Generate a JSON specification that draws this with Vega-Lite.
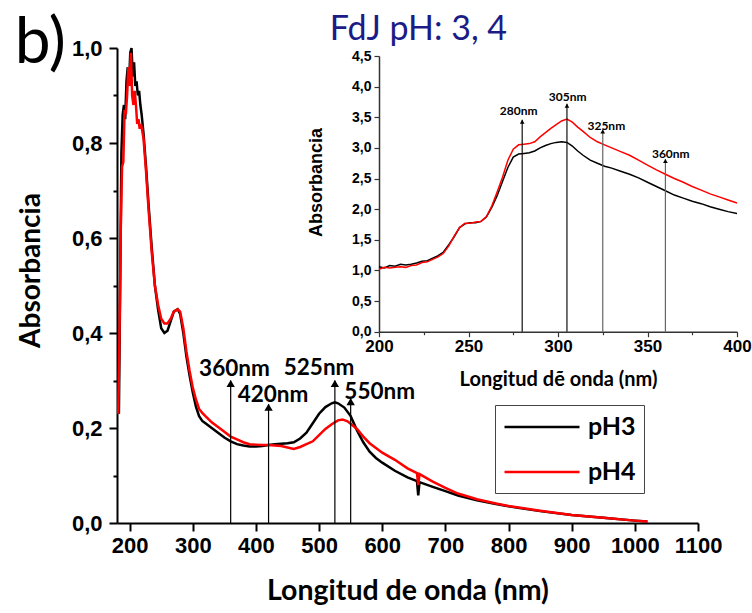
{
  "$schema": "https://vega.github.io/schema/vega-lite/v6.json",
  "width": 581,
  "height": 475,
  "autosize": "none",
  "padding": {"left": 117, "top": 48, "right": 54, "bottom": 90},
  "background": "white",
  "config": {"view": {"stroke": null}, "axis": {"grid": false}},
  "datasets": {
    "main": [
      {"wl":183,"abs":0.23,"serie":"pH3"},{"wl":185,"abs":0.50,"serie":"pH3"},{"wl":187,"abs":0.78,"serie":"pH3"},{"wl":189,"abs":0.86,"serie":"pH3"},{"wl":191,"abs":0.88,"serie":"pH3"},{"wl":193,"abs":0.85,"serie":"pH3"},{"wl":195,"abs":0.93,"serie":"pH3"},{"wl":197,"abs":0.96,"serie":"pH3"},{"wl":199,"abs":0.92,"serie":"pH3"},{"wl":201,"abs":0.99,"serie":"pH3"},{"wl":203,"abs":1.0,"serie":"pH3"},{"wl":205,"abs":0.94,"serie":"pH3"},{"wl":207,"abs":0.97,"serie":"pH3"},{"wl":209,"abs":0.92,"serie":"pH3"},{"wl":211,"abs":0.93,"serie":"pH3"},{"wl":213,"abs":0.90,"serie":"pH3"},{"wl":215,"abs":0.91,"serie":"pH3"},{"wl":217,"abs":0.88,"serie":"pH3"},{"wl":219,"abs":0.86,"serie":"pH3"},{"wl":222,"abs":0.82,"serie":"pH3"},{"wl":226,"abs":0.75,"serie":"pH3"},{"wl":230,"abs":0.67,"serie":"pH3"},{"wl":235,"abs":0.58,"serie":"pH3"},{"wl":240,"abs":0.50,"serie":"pH3"},{"wl":245,"abs":0.45,"serie":"pH3"},{"wl":250,"abs":0.41,"serie":"pH3"},{"wl":255,"abs":0.40,"serie":"pH3"},{"wl":260,"abs":0.405,"serie":"pH3"},{"wl":265,"abs":0.425,"serie":"pH3"},{"wl":270,"abs":0.445,"serie":"pH3"},{"wl":276,"abs":0.45,"serie":"pH3"},{"wl":280,"abs":0.44,"serie":"pH3"},{"wl":285,"abs":0.40,"serie":"pH3"},{"wl":290,"abs":0.35,"serie":"pH3"},{"wl":295,"abs":0.31,"serie":"pH3"},{"wl":300,"abs":0.275,"serie":"pH3"},{"wl":305,"abs":0.245,"serie":"pH3"},{"wl":310,"abs":0.225,"serie":"pH3"},{"wl":315,"abs":0.215,"serie":"pH3"},{"wl":320,"abs":0.21,"serie":"pH3"},{"wl":330,"abs":0.20,"serie":"pH3"},{"wl":340,"abs":0.19,"serie":"pH3"},{"wl":350,"abs":0.18,"serie":"pH3"},{"wl":360,"abs":0.172,"serie":"pH3"},{"wl":370,"abs":0.166,"serie":"pH3"},{"wl":380,"abs":0.163,"serie":"pH3"},{"wl":390,"abs":0.161,"serie":"pH3"},{"wl":400,"abs":0.161,"serie":"pH3"},{"wl":410,"abs":0.162,"serie":"pH3"},{"wl":420,"abs":0.164,"serie":"pH3"},{"wl":430,"abs":0.166,"serie":"pH3"},{"wl":440,"abs":0.167,"serie":"pH3"},{"wl":450,"abs":0.168,"serie":"pH3"},{"wl":460,"abs":0.170,"serie":"pH3"},{"wl":470,"abs":0.178,"serie":"pH3"},{"wl":480,"abs":0.190,"serie":"pH3"},{"wl":490,"abs":0.210,"serie":"pH3"},{"wl":500,"abs":0.230,"serie":"pH3"},{"wl":510,"abs":0.244,"serie":"pH3"},{"wl":520,"abs":0.252,"serie":"pH3"},{"wl":525,"abs":0.254,"serie":"pH3"},{"wl":530,"abs":0.252,"serie":"pH3"},{"wl":540,"abs":0.243,"serie":"pH3"},{"wl":550,"abs":0.225,"serie":"pH3"},{"wl":560,"abs":0.195,"serie":"pH3"},{"wl":570,"abs":0.170,"serie":"pH3"},{"wl":580,"abs":0.150,"serie":"pH3"},{"wl":590,"abs":0.137,"serie":"pH3"},{"wl":600,"abs":0.127,"serie":"pH3"},{"wl":620,"abs":0.110,"serie":"pH3"},{"wl":640,"abs":0.096,"serie":"pH3"},{"wl":655,"abs":0.088,"serie":"pH3"},{"wl":657,"abs":0.058,"serie":"pH3"},{"wl":659,"abs":0.086,"serie":"pH3"},{"wl":680,"abs":0.076,"serie":"pH3"},{"wl":700,"abs":0.067,"serie":"pH3"},{"wl":720,"abs":0.058,"serie":"pH3"},{"wl":750,"abs":0.048,"serie":"pH3"},{"wl":780,"abs":0.040,"serie":"pH3"},{"wl":800,"abs":0.035,"serie":"pH3"},{"wl":850,"abs":0.025,"serie":"pH3"},{"wl":900,"abs":0.017,"serie":"pH3"},{"wl":950,"abs":0.011,"serie":"pH3"},{"wl":1000,"abs":0.005,"serie":"pH3"},{"wl":1020,"abs":0.003,"serie":"pH3"},
      {"wl":182,"abs":0.23,"serie":"pH4"},{"wl":184,"abs":0.40,"serie":"pH4"},{"wl":186,"abs":0.62,"serie":"pH4"},{"wl":188,"abs":0.75,"serie":"pH4"},{"wl":190,"abs":0.76,"serie":"pH4"},{"wl":192,"abs":0.87,"serie":"pH4"},{"wl":194,"abs":0.86,"serie":"pH4"},{"wl":196,"abs":0.90,"serie":"pH4"},{"wl":198,"abs":0.96,"serie":"pH4"},{"wl":200,"abs":0.92,"serie":"pH4"},{"wl":202,"abs":0.99,"serie":"pH4"},{"wl":204,"abs":0.90,"serie":"pH4"},{"wl":206,"abs":0.88,"serie":"pH4"},{"wl":208,"abs":0.91,"serie":"pH4"},{"wl":210,"abs":0.88,"serie":"pH4"},{"wl":212,"abs":0.84,"serie":"pH4"},{"wl":214,"abs":0.85,"serie":"pH4"},{"wl":216,"abs":0.83,"serie":"pH4"},{"wl":218,"abs":0.84,"serie":"pH4"},{"wl":222,"abs":0.81,"serie":"pH4"},{"wl":226,"abs":0.74,"serie":"pH4"},{"wl":230,"abs":0.66,"serie":"pH4"},{"wl":235,"abs":0.57,"serie":"pH4"},{"wl":240,"abs":0.50,"serie":"pH4"},{"wl":245,"abs":0.46,"serie":"pH4"},{"wl":250,"abs":0.43,"serie":"pH4"},{"wl":255,"abs":0.42,"serie":"pH4"},{"wl":260,"abs":0.42,"serie":"pH4"},{"wl":265,"abs":0.43,"serie":"pH4"},{"wl":270,"abs":0.445,"serie":"pH4"},{"wl":276,"abs":0.45,"serie":"pH4"},{"wl":280,"abs":0.445,"serie":"pH4"},{"wl":285,"abs":0.41,"serie":"pH4"},{"wl":290,"abs":0.36,"serie":"pH4"},{"wl":295,"abs":0.32,"serie":"pH4"},{"wl":300,"abs":0.285,"serie":"pH4"},{"wl":305,"abs":0.26,"serie":"pH4"},{"wl":310,"abs":0.24,"serie":"pH4"},{"wl":315,"abs":0.232,"serie":"pH4"},{"wl":320,"abs":0.225,"serie":"pH4"},{"wl":330,"abs":0.212,"serie":"pH4"},{"wl":340,"abs":0.202,"serie":"pH4"},{"wl":350,"abs":0.192,"serie":"pH4"},{"wl":360,"abs":0.182,"serie":"pH4"},{"wl":370,"abs":0.176,"serie":"pH4"},{"wl":380,"abs":0.170,"serie":"pH4"},{"wl":390,"abs":0.166,"serie":"pH4"},{"wl":400,"abs":0.165,"serie":"pH4"},{"wl":410,"abs":0.164,"serie":"pH4"},{"wl":420,"abs":0.164,"serie":"pH4"},{"wl":430,"abs":0.163,"serie":"pH4"},{"wl":440,"abs":0.162,"serie":"pH4"},{"wl":450,"abs":0.159,"serie":"pH4"},{"wl":460,"abs":0.156,"serie":"pH4"},{"wl":470,"abs":0.160,"serie":"pH4"},{"wl":480,"abs":0.166,"serie":"pH4"},{"wl":490,"abs":0.172,"serie":"pH4"},{"wl":500,"abs":0.185,"serie":"pH4"},{"wl":510,"abs":0.198,"serie":"pH4"},{"wl":520,"abs":0.208,"serie":"pH4"},{"wl":530,"abs":0.216,"serie":"pH4"},{"wl":537,"abs":0.218,"serie":"pH4"},{"wl":545,"abs":0.214,"serie":"pH4"},{"wl":550,"abs":0.209,"serie":"pH4"},{"wl":560,"abs":0.198,"serie":"pH4"},{"wl":570,"abs":0.182,"serie":"pH4"},{"wl":580,"abs":0.168,"serie":"pH4"},{"wl":590,"abs":0.158,"serie":"pH4"},{"wl":600,"abs":0.148,"serie":"pH4"},{"wl":620,"abs":0.133,"serie":"pH4"},{"wl":640,"abs":0.115,"serie":"pH4"},{"wl":655,"abs":0.105,"serie":"pH4"},{"wl":657,"abs":0.080,"serie":"pH4"},{"wl":659,"abs":0.103,"serie":"pH4"},{"wl":680,"abs":0.087,"serie":"pH4"},{"wl":700,"abs":0.074,"serie":"pH4"},{"wl":720,"abs":0.062,"serie":"pH4"},{"wl":750,"abs":0.050,"serie":"pH4"},{"wl":780,"abs":0.041,"serie":"pH4"},{"wl":800,"abs":0.036,"serie":"pH4"},{"wl":850,"abs":0.026,"serie":"pH4"},{"wl":900,"abs":0.017,"serie":"pH4"},{"wl":950,"abs":0.011,"serie":"pH4"},{"wl":1000,"abs":0.005,"serie":"pH4"},{"wl":1020,"abs":0.003,"serie":"pH4"}
    ],
    "inset": [
      {"wl":200,"abs":1.06,"serie":"pH3"},{"wl":203,"abs":1.04,"serie":"pH3"},{"wl":206,"abs":1.08,"serie":"pH3"},{"wl":209,"abs":1.07,"serie":"pH3"},{"wl":212,"abs":1.10,"serie":"pH3"},{"wl":215,"abs":1.09,"serie":"pH3"},{"wl":218,"abs":1.10,"serie":"pH3"},{"wl":221,"abs":1.12,"serie":"pH3"},{"wl":224,"abs":1.15,"serie":"pH3"},{"wl":227,"abs":1.16,"serie":"pH3"},{"wl":230,"abs":1.20,"serie":"pH3"},{"wl":233,"abs":1.24,"serie":"pH3"},{"wl":236,"abs":1.30,"serie":"pH3"},{"wl":239,"abs":1.42,"serie":"pH3"},{"wl":242,"abs":1.55,"serie":"pH3"},{"wl":245,"abs":1.70,"serie":"pH3"},{"wl":248,"abs":1.76,"serie":"pH3"},{"wl":251,"abs":1.78,"serie":"pH3"},{"wl":254,"abs":1.78,"serie":"pH3"},{"wl":257,"abs":1.80,"serie":"pH3"},{"wl":260,"abs":1.87,"serie":"pH3"},{"wl":263,"abs":2.03,"serie":"pH3"},{"wl":266,"abs":2.22,"serie":"pH3"},{"wl":269,"abs":2.45,"serie":"pH3"},{"wl":272,"abs":2.68,"serie":"pH3"},{"wl":275,"abs":2.85,"serie":"pH3"},{"wl":278,"abs":2.90,"serie":"pH3"},{"wl":281,"abs":2.91,"serie":"pH3"},{"wl":284,"abs":2.92,"serie":"pH3"},{"wl":287,"abs":2.95,"serie":"pH3"},{"wl":290,"abs":3.00,"serie":"pH3"},{"wl":293,"abs":3.04,"serie":"pH3"},{"wl":296,"abs":3.07,"serie":"pH3"},{"wl":299,"abs":3.09,"serie":"pH3"},{"wl":302,"abs":3.10,"serie":"pH3"},{"wl":305,"abs":3.09,"serie":"pH3"},{"wl":308,"abs":3.03,"serie":"pH3"},{"wl":311,"abs":2.95,"serie":"pH3"},{"wl":314,"abs":2.88,"serie":"pH3"},{"wl":318,"abs":2.80,"serie":"pH3"},{"wl":322,"abs":2.75,"serie":"pH3"},{"wl":326,"abs":2.70,"serie":"pH3"},{"wl":330,"abs":2.67,"serie":"pH3"},{"wl":335,"abs":2.62,"serie":"pH3"},{"wl":340,"abs":2.57,"serie":"pH3"},{"wl":345,"abs":2.51,"serie":"pH3"},{"wl":350,"abs":2.44,"serie":"pH3"},{"wl":355,"abs":2.37,"serie":"pH3"},{"wl":360,"abs":2.30,"serie":"pH3"},{"wl":365,"abs":2.23,"serie":"pH3"},{"wl":370,"abs":2.18,"serie":"pH3"},{"wl":375,"abs":2.13,"serie":"pH3"},{"wl":380,"abs":2.09,"serie":"pH3"},{"wl":385,"abs":2.04,"serie":"pH3"},{"wl":390,"abs":2.00,"serie":"pH3"},{"wl":395,"abs":1.96,"serie":"pH3"},{"wl":400,"abs":1.93,"serie":"pH3"},
      {"wl":200,"abs":1.02,"serie":"pH4"},{"wl":203,"abs":1.05,"serie":"pH4"},{"wl":206,"abs":1.04,"serie":"pH4"},{"wl":209,"abs":1.05,"serie":"pH4"},{"wl":212,"abs":1.06,"serie":"pH4"},{"wl":215,"abs":1.05,"serie":"pH4"},{"wl":218,"abs":1.08,"serie":"pH4"},{"wl":221,"abs":1.09,"serie":"pH4"},{"wl":224,"abs":1.13,"serie":"pH4"},{"wl":227,"abs":1.14,"serie":"pH4"},{"wl":230,"abs":1.18,"serie":"pH4"},{"wl":233,"abs":1.22,"serie":"pH4"},{"wl":236,"abs":1.28,"serie":"pH4"},{"wl":239,"abs":1.40,"serie":"pH4"},{"wl":242,"abs":1.56,"serie":"pH4"},{"wl":245,"abs":1.70,"serie":"pH4"},{"wl":248,"abs":1.77,"serie":"pH4"},{"wl":251,"abs":1.77,"serie":"pH4"},{"wl":254,"abs":1.79,"serie":"pH4"},{"wl":257,"abs":1.80,"serie":"pH4"},{"wl":260,"abs":1.88,"serie":"pH4"},{"wl":263,"abs":2.05,"serie":"pH4"},{"wl":266,"abs":2.28,"serie":"pH4"},{"wl":269,"abs":2.52,"serie":"pH4"},{"wl":272,"abs":2.80,"serie":"pH4"},{"wl":275,"abs":2.98,"serie":"pH4"},{"wl":278,"abs":3.05,"serie":"pH4"},{"wl":281,"abs":3.06,"serie":"pH4"},{"wl":284,"abs":3.07,"serie":"pH4"},{"wl":287,"abs":3.10,"serie":"pH4"},{"wl":290,"abs":3.18,"serie":"pH4"},{"wl":293,"abs":3.25,"serie":"pH4"},{"wl":296,"abs":3.32,"serie":"pH4"},{"wl":299,"abs":3.38,"serie":"pH4"},{"wl":302,"abs":3.44,"serie":"pH4"},{"wl":305,"abs":3.47,"serie":"pH4"},{"wl":308,"abs":3.42,"serie":"pH4"},{"wl":311,"abs":3.34,"serie":"pH4"},{"wl":314,"abs":3.27,"serie":"pH4"},{"wl":318,"abs":3.17,"serie":"pH4"},{"wl":322,"abs":3.10,"serie":"pH4"},{"wl":326,"abs":3.05,"serie":"pH4"},{"wl":330,"abs":3.00,"serie":"pH4"},{"wl":335,"abs":2.94,"serie":"pH4"},{"wl":340,"abs":2.88,"serie":"pH4"},{"wl":345,"abs":2.80,"serie":"pH4"},{"wl":350,"abs":2.72,"serie":"pH4"},{"wl":355,"abs":2.64,"serie":"pH4"},{"wl":360,"abs":2.57,"serie":"pH4"},{"wl":365,"abs":2.50,"serie":"pH4"},{"wl":370,"abs":2.44,"serie":"pH4"},{"wl":375,"abs":2.37,"serie":"pH4"},{"wl":380,"abs":2.31,"serie":"pH4"},{"wl":385,"abs":2.25,"serie":"pH4"},{"wl":390,"abs":2.20,"serie":"pH4"},{"wl":395,"abs":2.15,"serie":"pH4"},{"wl":400,"abs":2.10,"serie":"pH4"}
    ],
    "arrowsMain": [
      {"wl":360,"abs":0,"top":0.30},{"wl":420,"abs":0,"top":0.25},{"wl":525,"abs":0,"top":0.30},{"wl":550,"abs":0,"top":0.262}
    ],
    "labelsMain": [
      {"wl":366,"abs":0.325,"label":"360nm"},{"wl":427,"abs":0.27,"label":"420nm"},{"wl":500,"abs":0.327,"label":"525nm"},{"wl":596,"abs":0.276,"label":"550nm"}
    ],
    "arrowsInset": [
      {"wl":280,"abs":0,"top":3.46,"tone":"a"},{"wl":305,"abs":0,"top":3.72,"tone":"a"},{"wl":325,"abs":0,"top":3.30,"tone":"b"},{"wl":360,"abs":0,"top":2.82,"tone":"b"}
    ],
    "labelsInset": [
      {"wl":278,"abs":3.6,"label":"280nm"},{"wl":305.4,"abs":3.83,"label":"305nm"},{"wl":327,"abs":3.36,"label":"325nm"},{"wl":363,"abs":2.9,"label":"360nm"}
    ]
  },
  "layer": [
    {
      "layer": [
        {
          "data": {"name": "main"},
          "mark": {"type": "line", "strokeWidth": 2.5},
          "encoding": {
            "x": {"field": "wl", "type": "quantitative",
              "scale": {"domain": [180, 1100], "nice": false, "zero": false},
              "axis": {"title": "Longitud de onda (nm)", "values": [200,250,300,350,400,450,500,550,600,650,700,750,800,850,900,950,1000,1050,1100],
                "format": "d", "labelExpr": "datum.value % 100 === 0 ? datum.label : ''", "labelFlush": false, "labelOverlap": false,
                "tickSize": {"condition": {"test": "datum.value % 100 === 0", "value": 8}, "value": 4},
                "domainColor": "black", "domainWidth": 2, "tickColor": "black", "tickWidth": 2,
                "labelFont": "Liberation Sans", "labelFontWeight": "bold", "labelFontSize": 22, "labelColor": "black", "labelPadding": 4,
                "titleFont": "Lato", "titleFontWeight": "bold", "titleFontSize": 28.5, "titleColor": "black", "titleY": 67, "titleBaseline": "middle"}},
            "y": {"field": "abs", "type": "quantitative",
              "scale": {"domain": [0, 1], "nice": false, "zero": false},
              "axis": {"title": "Absorbancia", "values": [0,0.1,0.2,0.3,0.4,0.5,0.6,0.7,0.8,0.9,1.0],
                "labelExpr": "round(datum.value*10) % 2 === 0 ? replace(format(datum.value, '.1f'), '.', ',') : ''", "labelOverlap": false,
                "tickSize": {"condition": {"test": "round(datum.value*10) % 2 === 0", "value": 8}, "value": 4},
                "domainColor": "black", "domainWidth": 2, "tickColor": "black", "tickWidth": 2,
                "labelFont": "Liberation Sans", "labelFontWeight": "bold", "labelFontSize": 22, "labelColor": "black", "labelPadding": 7,
                "titleFont": "Lato", "titleFontWeight": "bold", "titleFontSize": 28, "titleColor": "black", "titleX": -86, "titleY": 222, "titleBaseline": "middle"}},
            "color": {"field": "serie", "type": "nominal",
              "scale": {"domain": ["pH3", "pH4"], "range": ["#000000", "#ff0000"]},
              "legend": {"title": null, "orient": "none", "legendX": 378, "legendY": 357, "symbolType": "M-1,0H5", "symbolSize": 625, "symbolStrokeWidth": 2.5,
                "labelFont": "Lato", "labelFontWeight": "bold", "labelFontSize": 25, "labelColor": "black", "labelOffset": 57, "rowPadding": 18,
                "strokeColor": "#444444", "padding": 8}}
          }
        },
        {
          "data": {"name": "arrowsMain"},
          "mark": {"type": "rule", "color": "black", "strokeWidth": 1.2},
          "encoding": {"x": {"field": "wl", "type": "quantitative"}, "y": {"field": "abs", "type": "quantitative"}, "y2": {"field": "top"}}
        },
        {
          "data": {"name": "arrowsMain"},
          "mark": {"type": "point", "shape": "triangle-up", "filled": true, "color": "black", "size": 70, "opacity": 1, "yOffset": 3},
          "encoding": {"x": {"field": "wl", "type": "quantitative"}, "y": {"field": "top", "type": "quantitative"}}
        },
        {
          "data": {"name": "labelsMain"},
          "mark": {"type": "text", "font": "Lato", "fontWeight": "bold", "fontSize": 22.5, "color": "black", "baseline": "middle"},
          "encoding": {"x": {"field": "wl", "type": "quantitative"}, "y": {"field": "abs", "type": "quantitative"}, "text": {"field": "label"}}
        },
        {
          "data": {"values": [{"wl": 18, "abs": 0.968, "label": "b)"}]},
          "mark": {"type": "text", "font": "Lato", "fontSize": 64, "color": "black", "align": "left", "baseline": "alphabetic"},
          "encoding": {"x": {"field": "wl", "type": "quantitative"}, "y": {"field": "abs", "type": "quantitative"}, "text": {"field": "label"}}
        }
      ]
    },
    {
      "layer": [
        {
          "data": {"name": "inset"},
          "mark": {"type": "line", "strokeWidth": 1.5},
          "encoding": {
            "x": {"field": "wl", "type": "quantitative",
              "scale": {"domain": [200, 400], "range": [262, 620], "nice": false, "zero": false},
              "axis": {"orient": "bottom", "offset": -191.3, "title": "Longitud dẽ onda (nm)", "values": [200,225,250,275,300,325,350,375,400],
                "format": "d", "labelExpr": "datum.value % 50 === 0 ? datum.label : ''", "labelFlush": false, "labelOverlap": false,
                "tickSize": {"condition": {"test": "datum.value % 50 === 0", "value": 5}, "value": 3},
                "domainColor": "#333333", "domainWidth": 1.5, "tickColor": "#333333", "tickWidth": 1.2,
                "labelFont": "Liberation Sans", "labelFontWeight": "bold", "labelFontSize": 17, "labelColor": "black", "labelPadding": 2,
                "titleFont": "Lato", "titleFontWeight": "bold", "titleFontSize": 20, "titleColor": "black", "titleX": 441, "titleY": 48, "titleBaseline": "middle"}},
            "y": {"field": "abs", "type": "quantitative",
              "scale": {"domain": [0, 4.5], "range": [283.7, 8], "nice": false, "zero": false},
              "axis": {"orient": "left", "offset": -262, "title": "Absorbancia", "values": [0,0.25,0.5,0.75,1,1.25,1.5,1.75,2,2.25,2.5,2.75,3,3.25,3.5,3.75,4,4.25,4.5],
                "labelExpr": "round(datum.value*4) % 2 === 0 ? replace(format(datum.value, '.1f'), '.', ',') : ''", "labelOverlap": false,
                "tickSize": {"condition": {"test": "round(datum.value*4) % 2 === 0", "value": 5}, "value": 3},
                "domainColor": "#333333", "domainWidth": 1.5, "tickColor": "#333333", "tickWidth": 1.2,
                "labelFont": "Liberation Sans", "labelFontWeight": "bold", "labelFontSize": 14, "labelColor": "black", "labelPadding": 3,
                "titleFont": "Liberation Sans", "titleFontWeight": "bold", "titleFontSize": 18, "titleColor": "black", "titleX": -63, "titleY": 134, "titleBaseline": "middle"}},
            "color": {"field": "serie", "type": "nominal",
              "scale": {"domain": ["pH3", "pH4"], "range": ["#000000", "#ff0000"]}, "legend": null}
          }
        },
        {
          "data": {"name": "arrowsInset"},
          "mark": {"type": "rule", "strokeWidth": 1.2},
          "encoding": {"x": {"field": "wl", "type": "quantitative"}, "y": {"field": "abs", "type": "quantitative"}, "y2": {"field": "top"},
            "color": {"field": "tone", "type": "nominal", "scale": {"domain": ["a", "b"], "range": ["#111111", "#666666"]}, "legend": null}}
        },
        {
          "data": {"name": "arrowsInset"},
          "mark": {"type": "point", "shape": "triangle-up", "filled": true, "color": "black", "size": 22, "opacity": 1, "yOffset": 2},
          "encoding": {"x": {"field": "wl", "type": "quantitative"}, "y": {"field": "top", "type": "quantitative"}}
        },
        {
          "data": {"name": "labelsInset"},
          "mark": {"type": "text", "font": "Lato", "fontWeight": "bold", "fontSize": 12, "color": "black", "baseline": "middle"},
          "encoding": {"x": {"field": "wl", "type": "quantitative"}, "y": {"field": "abs", "type": "quantitative"}, "text": {"field": "label"}}
        },
        {
          "data": {"values": [{"wl": 222, "abs": 4.92, "label": "FdJ pH: 3, 4"}]},
          "mark": {"type": "text", "font": "Lato", "fontSize": 34, "color": "#1c1c87", "baseline": "middle"},
          "encoding": {"x": {"field": "wl", "type": "quantitative"}, "y": {"field": "abs", "type": "quantitative"}, "text": {"field": "label"}}
        }
      ],
      "resolve": {"scale": {"color": "independent"}}
    }
  ],
  "resolve": {"scale": {"x": "independent", "y": "independent", "color": "independent"}}
}
